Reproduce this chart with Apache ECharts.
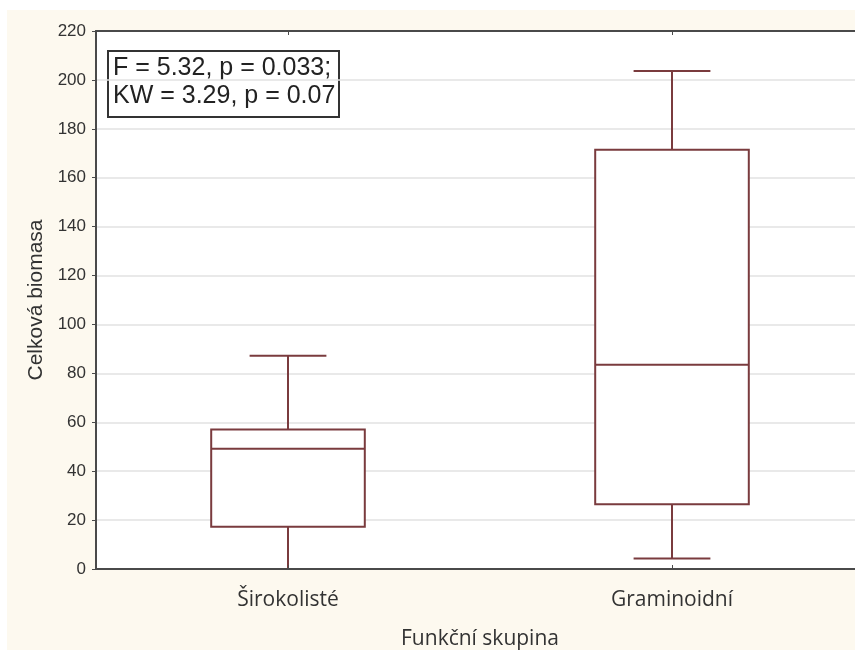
<!DOCTYPE html>
<html>
<head>
<meta charset="utf-8">
<script src="https://cdn.jsdelivr.net/npm/echarts@6/dist/echarts.min.js"></script>
<style>
  html, body { margin: 0; padding: 0; background: #ffffff; overflow: hidden; width: 855px; height: 650px; }
  #chart { position: absolute; left: 7px; top: 10px; width: 857px; height: 640px; background: #fdf9ef; }
</style>
</head>
<body>
<div id="chart"></div>
<script>
  // skupiny a hodnoty boxplotu: [min, Q1, median, Q3, max]
  const categories = ['Širokolisté', 'Graminoidní'];
  const boxValues = [
    [0, 17.3, 49.2, 57, 87.2],
    [4.3, 26.5, 83.5, 171.4, 203.6]
  ];
  const yTicks = { min: 0, max: 220, interval: 20 };
  const statText = ['F = 5.32, p = 0.033;', 'KW = 3.29, p = 0.07'];

  const boxColor = '#7a3b3e';
  const axisColor = '#4a4a4a';

  const myChart = echarts.init(document.getElementById('chart'));

  const option = {
    animation: false,
    grid: {
      left: 89,
      top: 21,
      right: 0,
      bottom: 81,
      outerBoundsMode: 'none',
      containLabel: false,
      show: true,
      backgroundColor: '#ffffff',
      borderWidth: 0
    },
    xAxis: [
      {
        type: 'category',
        data: categories,
        position: 'bottom',
        z: 5,
        name: 'Funkční skupina',
        nameLocation: 'middle',
        nameGap: 60,
        nameTextStyle: {
          fontFamily: 'Open Sans',
          fontSize: 21,
          color: '#333'
        },
        axisLine: { lineStyle: { color: axisColor, width: 2 } },
        axisTick: { show: true, inside: true, alignWithLabel: true, length: 4, lineStyle: { color: axisColor } },
        axisLabel: {
          margin: 21,
          fontFamily: 'Open Sans',
          fontSize: 21,
          color: '#333'
        },
        splitLine: { show: false }
      },
      {
        type: 'category',
        data: categories,
        position: 'top',
        z: 5,
        axisLine: { lineStyle: { color: axisColor, width: 2 } },
        axisTick: { show: true, inside: true, alignWithLabel: true, length: 4, lineStyle: { color: axisColor } },
        axisLabel: { show: false }
      }
    ],
    yAxis: {
      type: 'value',
      min: yTicks.min,
      max: yTicks.max,
      interval: yTicks.interval,
      name: 'Celková biomasa',
      nameLocation: 'middle',
      nameGap: 49,
      nameTextStyle: {
        fontFamily: 'Liberation Sans',
        fontSize: 21,
        color: '#333'
      },
      axisLine: { show: true, lineStyle: { color: axisColor, width: 2 } },
      axisTick: { show: true, length: 4, lineStyle: { color: axisColor } },
      axisLabel: {
        margin: 10,
        fontFamily: 'Liberation Sans',
        fontSize: 17,
        color: '#333'
      },
      splitLine: { lineStyle: { color: '#e2e2e2', width: 1.5 } }
    },
    series: [
      {
        type: 'custom',
        xAxisIndex: 0,
        data: boxValues.map((v, i) => [i].concat(v)),
        renderItem: function (params, api) {
          const idx = api.value(0);
          const band = api.size([1, 0])[0];
          const halfBox = band * 0.2;
          const halfCap = band * 0.1;
          const pMin = api.coord([idx, api.value(1)]);
          const pQ1 = api.coord([idx, api.value(2)]);
          const pMed = api.coord([idx, api.value(3)]);
          const pQ3 = api.coord([idx, api.value(4)]);
          const pMax = api.coord([idx, api.value(5)]);
          const cx = pMin[0];
          const style = { stroke: boxColor, lineWidth: 2, fill: null };
          return {
            type: 'group',
            children: [
              { type: 'line', shape: { x1: cx, y1: pQ3[1], x2: cx, y2: pMax[1] }, style: style },
              { type: 'line', shape: { x1: cx, y1: pQ1[1], x2: cx, y2: pMin[1] }, style: style },
              { type: 'line', shape: { x1: cx - halfCap, y1: pMax[1], x2: cx + halfCap, y2: pMax[1] }, style: style },
              { type: 'line', shape: { x1: cx - halfCap, y1: pMin[1], x2: cx + halfCap, y2: pMin[1] }, style: style },
              { type: 'rect', shape: { x: cx - halfBox, y: pQ3[1], width: halfBox * 2, height: pQ1[1] - pQ3[1] }, style: { stroke: boxColor, lineWidth: 2, fill: '#ffffff' } },
              { type: 'line', shape: { x1: cx - halfBox, y1: pMed[1], x2: cx + halfBox, y2: pMed[1] }, style: style }
            ]
          };
        },
        z: 2
      }
    ],
    graphic: [
      {
        type: 'group',
        left: 100,
        top: 40,
        z: 10,
        children: [
          {
            type: 'rect',
            shape: { x: 0, y: 0, width: 231, height: 66 },
            style: { fill: '#ffffff', stroke: '#333', lineWidth: 2 }
          },
          {
            type: 'text',
            x: 5,
            y: 17,
            style: {
              text: statText[0],
              font: '25px "Liberation Sans"',
              fill: '#222',
              verticalAlign: 'middle'
            }
          },
          {
            type: 'text',
            x: 5,
            y: 45,
            style: {
              text: statText[1],
              font: '25px "Liberation Sans"',
              fill: '#222',
              verticalAlign: 'middle'
            }
          }
        ]
      }
    ]
  };

  myChart.setOption(option);
</script>
</body>
</html>
